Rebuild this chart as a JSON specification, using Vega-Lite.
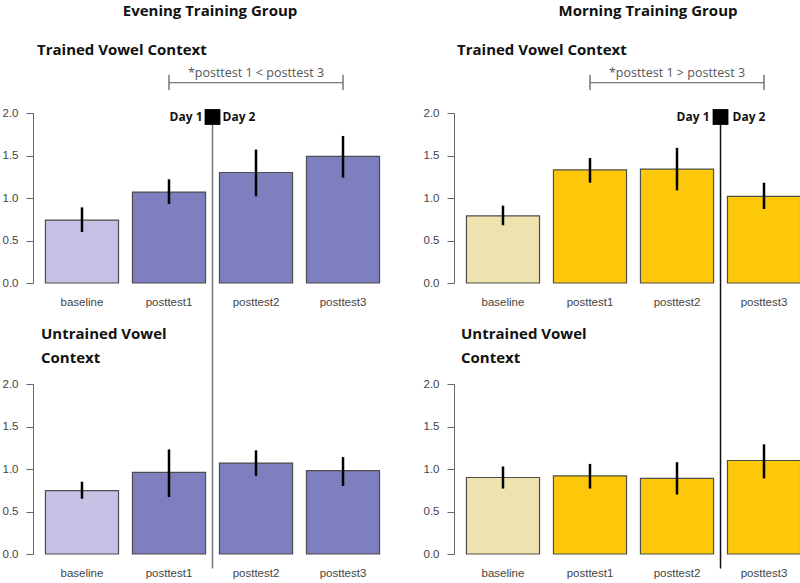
{
  "$schema": "https://vega.github.io/schema/vega-lite/v6.json",
  "padding": {"left": 2, "top": 4, "right": 0, "bottom": 0},
  "background": "white",
  "datasets": {
    "bars": [
      {"group": "Evening", "context": "Trained", "cond": "baseline", "mean": 0.74, "lo": 0.6, "hi": 0.89},
      {"group": "Evening", "context": "Trained", "cond": "posttest1", "mean": 1.07, "lo": 0.93, "hi": 1.22},
      {"group": "Evening", "context": "Trained", "cond": "posttest2", "mean": 1.3, "lo": 1.02, "hi": 1.57},
      {"group": "Evening", "context": "Trained", "cond": "posttest3", "mean": 1.49, "lo": 1.24, "hi": 1.73},
      {"group": "Evening", "context": "Untrained", "cond": "baseline", "mean": 0.745, "lo": 0.65, "hi": 0.85},
      {"group": "Evening", "context": "Untrained", "cond": "posttest1", "mean": 0.96, "lo": 0.67, "hi": 1.23},
      {"group": "Evening", "context": "Untrained", "cond": "posttest2", "mean": 1.07, "lo": 0.92, "hi": 1.22},
      {"group": "Evening", "context": "Untrained", "cond": "posttest3", "mean": 0.98, "lo": 0.8, "hi": 1.14},
      {"group": "Morning", "context": "Trained", "cond": "baseline", "mean": 0.79, "lo": 0.68, "hi": 0.91},
      {"group": "Morning", "context": "Trained", "cond": "posttest1", "mean": 1.33, "lo": 1.18, "hi": 1.47},
      {"group": "Morning", "context": "Trained", "cond": "posttest2", "mean": 1.34, "lo": 1.09, "hi": 1.59},
      {"group": "Morning", "context": "Trained", "cond": "posttest3", "mean": 1.02, "lo": 0.87, "hi": 1.18},
      {"group": "Morning", "context": "Untrained", "cond": "baseline", "mean": 0.9, "lo": 0.77, "hi": 1.03},
      {"group": "Morning", "context": "Untrained", "cond": "posttest1", "mean": 0.92, "lo": 0.77, "hi": 1.06},
      {"group": "Morning", "context": "Untrained", "cond": "posttest2", "mean": 0.89, "lo": 0.7, "hi": 1.08},
      {"group": "Morning", "context": "Untrained", "cond": "posttest3", "mean": 1.1, "lo": 0.89, "hi": 1.29}
    ]
  },
  "config": {
    "view": {"stroke": null},
    "title": {"font": "Open Sans", "fontWeight": "bold", "fontSize": 15, "color": "#111"}
  },
  "spacing": 31,
  "hconcat": [
    {
      "title": {"text": "Evening Training Group", "anchor": "middle", "dx": 13, "offset": 24},
      "bounds": "flush",
      "spacing": 101,
      "vconcat": [
        {
          "width": 359, "height": 170,
          "title": {"text": "Trained Vowel Context", "anchor": "start", "frame": "group", "dx": 4, "offset": 9},
          "layer": [
            {
              "data": {"name": "bars"},
              "transform": [{"filter": "datum.group === 'Evening' && datum.context === 'Trained'"}],
              "mark": {"type": "bar", "stroke": "#4d4d4d", "strokeWidth": 1.2},
              "encoding": {
                "x": {"field": "cond", "type": "nominal", "scale": {"domain": ["baseline", "posttest1", "posttest2", "posttest3"], "paddingInner": 0.16, "paddingOuter": 0.143},
                      "axis": {"title": null, "labelAngle": 0, "domain": false, "ticks": false, "labelPadding": 13, "labelFont": "Liberation Sans", "labelFontSize": 11.5, "labelColor": "#444"}},
                "y": {"field": "mean", "type": "quantitative", "stack": null, "scale": {"domain": [0, 2], "nice": false, "zero": true},
                      "axis": {"title": null, "values": [0, 0.5, 1, 1.5, 2], "format": ".1f", "grid": false, "tickSize": 7, "labelPadding": 8, "domainColor": "#666", "tickColor": "#666", "labelColor": "#444", "labelFont": "Liberation Sans", "labelFontSize": 11.5}},
                "fill": {"condition": {"test": "datum.cond === 'baseline'", "value": "#c6c0e4"}, "value": "#7f7fbf"}
              }
            },
            {
              "data": {"name": "bars"},
              "transform": [{"filter": "datum.group === 'Evening' && datum.context === 'Trained'"}],
              "mark": {"type": "rule", "strokeWidth": 2.5, "color": "black"},
              "encoding": {
                "x": {"field": "cond", "type": "nominal"},
                "y": {"field": "lo", "type": "quantitative"},
                "y2": {"field": "hi"}
              }
            },
            {
              "data": {"values": [{"cond": "posttest1"}, {"cond": "posttest3"}]},
              "layer": [
                {"mark": {"type": "line", "color": "#555", "strokeWidth": 1.2}, "encoding": {"x": {"field": "cond", "type": "nominal"}, "y": {"datum": 2.356}}},
                {"mark": {"type": "rule", "color": "#555", "strokeWidth": 1.2}, "encoding": {"x": {"field": "cond", "type": "nominal"}, "y": {"datum": 2.27}, "y2": {"datum": 2.45}}}
              ]
            },
            {
              "data": {"values": [{"cond": "posttest2", "label": "*posttest 1 < posttest 3"}]},
              "mark": {"type": "text", "font": "Open Sans", "fontSize": 12.5, "color": "#555"},
              "encoding": {"x": {"field": "cond", "type": "nominal"}, "y": {"datum": 2.465}, "text": {"field": "label"}}
            },
            {
              "data": {"values": [{"cond": "posttest2"}]},
              "layer": [
                {"mark": {"type": "rule", "color": "#777", "strokeWidth": 1.5}, "encoding": {"x": {"field": "cond", "type": "nominal", "bandPosition": -0.095}, "y": {"datum": 1.95}, "y2": {"datum": -3.36}}},
                {"mark": {"type": "point", "shape": "square", "filled": true, "size": 250, "color": "black", "opacity": 1}, "encoding": {"x": {"field": "cond", "type": "nominal", "bandPosition": -0.095}, "y": {"datum": 1.953}}},
                {"mark": {"type": "text", "text": "Day 1", "align": "right", "dx": -10, "font": "Open Sans", "fontWeight": "bold", "fontSize": 12, "color": "#111"}, "encoding": {"x": {"field": "cond", "type": "nominal", "bandPosition": -0.095}, "y": {"datum": 1.953}}},
                {"mark": {"type": "text", "text": "Day 2", "align": "left", "dx": 10, "font": "Open Sans", "fontWeight": "bold", "fontSize": 12, "color": "#111"}, "encoding": {"x": {"field": "cond", "type": "nominal", "bandPosition": -0.095}, "y": {"datum": 1.953}}}
              ]
            }
          ]
        },
        {
          "width": 359, "height": 170,
          "title": {"text": ["Untrained Vowel", "Context"], "anchor": "start", "frame": "group", "dx": 8, "offset": 12, "lineHeight": 24},
          "data": {"name": "bars"},
          "transform": [{"filter": "datum.group === 'Evening' && datum.context === 'Untrained'"}],
          "layer": [
            {
              "mark": {"type": "bar", "stroke": "#4d4d4d", "strokeWidth": 1.2},
              "encoding": {
                "x": {"field": "cond", "type": "nominal", "scale": {"domain": ["baseline", "posttest1", "posttest2", "posttest3"], "paddingInner": 0.16, "paddingOuter": 0.143},
                      "axis": {"title": null, "labelAngle": 0, "domain": false, "ticks": false, "labelPadding": 13, "labelFont": "Liberation Sans", "labelFontSize": 11.5, "labelColor": "#444"}},
                "y": {"field": "mean", "type": "quantitative", "stack": null, "scale": {"domain": [0, 2], "nice": false, "zero": true},
                      "axis": {"title": null, "values": [0, 0.5, 1, 1.5, 2], "format": ".1f", "grid": false, "tickSize": 7, "labelPadding": 8, "domainColor": "#666", "tickColor": "#666", "labelColor": "#444", "labelFont": "Liberation Sans", "labelFontSize": 11.5}},
                "fill": {"condition": {"test": "datum.cond === 'baseline'", "value": "#c6c0e4"}, "value": "#7f7fbf"}
              }
            },
            {
              "mark": {"type": "rule", "strokeWidth": 2.5, "color": "black"},
              "encoding": {
                "x": {"field": "cond", "type": "nominal"},
                "y": {"field": "lo", "type": "quantitative"},
                "y2": {"field": "hi"}
              }
            }
          ]
        }
      ]
    },
    {
      "title": {"text": "Morning Training Group", "anchor": "middle", "dx": 30, "offset": 24},
      "bounds": "flush",
      "spacing": 101,
      "vconcat": [
        {
          "width": 359, "height": 170,
          "title": {"text": "Trained Vowel Context", "anchor": "start", "frame": "group", "dx": 3, "offset": 9},
          "layer": [
            {
              "data": {"name": "bars"},
              "transform": [{"filter": "datum.group === 'Morning' && datum.context === 'Trained'"}],
              "mark": {"type": "bar", "stroke": "#4d4d4d", "strokeWidth": 1.2},
              "encoding": {
                "x": {"field": "cond", "type": "nominal", "scale": {"domain": ["baseline", "posttest1", "posttest2", "posttest3"], "paddingInner": 0.16, "paddingOuter": 0.143},
                      "axis": {"title": null, "labelAngle": 0, "domain": false, "ticks": false, "labelPadding": 13, "labelFont": "Liberation Sans", "labelFontSize": 11.5, "labelColor": "#444"}},
                "y": {"field": "mean", "type": "quantitative", "stack": null, "scale": {"domain": [0, 2], "nice": false, "zero": true},
                      "axis": {"title": null, "values": [0, 0.5, 1, 1.5, 2], "format": ".1f", "grid": false, "tickSize": 7, "labelPadding": 8, "domainColor": "#666", "tickColor": "#666", "labelColor": "#444", "labelFont": "Liberation Sans", "labelFontSize": 11.5}},
                "fill": {"condition": {"test": "datum.cond === 'baseline'", "value": "#eee2ae"}, "value": "#fec80a"}
              }
            },
            {
              "data": {"name": "bars"},
              "transform": [{"filter": "datum.group === 'Morning' && datum.context === 'Trained'"}],
              "mark": {"type": "rule", "strokeWidth": 2.5, "color": "black"},
              "encoding": {
                "x": {"field": "cond", "type": "nominal"},
                "y": {"field": "lo", "type": "quantitative"},
                "y2": {"field": "hi"}
              }
            },
            {
              "data": {"values": [{"cond": "posttest1"}, {"cond": "posttest3"}]},
              "layer": [
                {"mark": {"type": "line", "color": "#555", "strokeWidth": 1.2}, "encoding": {"x": {"field": "cond", "type": "nominal"}, "y": {"datum": 2.356}}},
                {"mark": {"type": "rule", "color": "#555", "strokeWidth": 1.2}, "encoding": {"x": {"field": "cond", "type": "nominal"}, "y": {"datum": 2.27}, "y2": {"datum": 2.45}}}
              ]
            },
            {
              "data": {"values": [{"cond": "posttest2", "label": "*posttest 1 > posttest 3"}]},
              "mark": {"type": "text", "font": "Open Sans", "fontSize": 12.5, "color": "#555"},
              "encoding": {"x": {"field": "cond", "type": "nominal"}, "y": {"datum": 2.465}, "text": {"field": "label"}}
            },
            {
              "data": {"values": [{"cond": "posttest3"}]},
              "layer": [
                {"mark": {"type": "rule", "color": "#111", "strokeWidth": 1.5}, "encoding": {"x": {"field": "cond", "type": "nominal", "bandPosition": -0.095}, "y": {"datum": 1.95}, "y2": {"datum": -3.36}}},
                {"mark": {"type": "point", "shape": "square", "filled": true, "size": 250, "color": "black", "opacity": 1}, "encoding": {"x": {"field": "cond", "type": "nominal", "bandPosition": -0.095}, "y": {"datum": 1.953}}},
                {"mark": {"type": "text", "text": "Day 1", "align": "right", "dx": -11, "font": "Open Sans", "fontWeight": "bold", "fontSize": 12, "color": "#111"}, "encoding": {"x": {"field": "cond", "type": "nominal", "bandPosition": -0.095}, "y": {"datum": 1.953}}},
                {"mark": {"type": "text", "text": "Day 2", "align": "left", "dx": 12, "font": "Open Sans", "fontWeight": "bold", "fontSize": 12, "color": "#111"}, "encoding": {"x": {"field": "cond", "type": "nominal", "bandPosition": -0.095}, "y": {"datum": 1.953}}}
              ]
            }
          ]
        },
        {
          "width": 359, "height": 170,
          "title": {"text": ["Untrained Vowel", "Context"], "anchor": "start", "frame": "group", "dx": 7, "offset": 12, "lineHeight": 24},
          "data": {"name": "bars"},
          "transform": [{"filter": "datum.group === 'Morning' && datum.context === 'Untrained'"}],
          "layer": [
            {
              "mark": {"type": "bar", "stroke": "#4d4d4d", "strokeWidth": 1.2},
              "encoding": {
                "x": {"field": "cond", "type": "nominal", "scale": {"domain": ["baseline", "posttest1", "posttest2", "posttest3"], "paddingInner": 0.16, "paddingOuter": 0.143},
                      "axis": {"title": null, "labelAngle": 0, "domain": false, "ticks": false, "labelPadding": 13, "labelFont": "Liberation Sans", "labelFontSize": 11.5, "labelColor": "#444"}},
                "y": {"field": "mean", "type": "quantitative", "stack": null, "scale": {"domain": [0, 2], "nice": false, "zero": true},
                      "axis": {"title": null, "values": [0, 0.5, 1, 1.5, 2], "format": ".1f", "grid": false, "tickSize": 7, "labelPadding": 8, "domainColor": "#666", "tickColor": "#666", "labelColor": "#444", "labelFont": "Liberation Sans", "labelFontSize": 11.5}},
                "fill": {"condition": {"test": "datum.cond === 'baseline'", "value": "#eee2ae"}, "value": "#fec80a"}
              }
            },
            {
              "mark": {"type": "rule", "strokeWidth": 2.5, "color": "black"},
              "encoding": {
                "x": {"field": "cond", "type": "nominal"},
                "y": {"field": "lo", "type": "quantitative"},
                "y2": {"field": "hi"}
              }
            }
          ]
        }
      ]
    }
  ]
}
